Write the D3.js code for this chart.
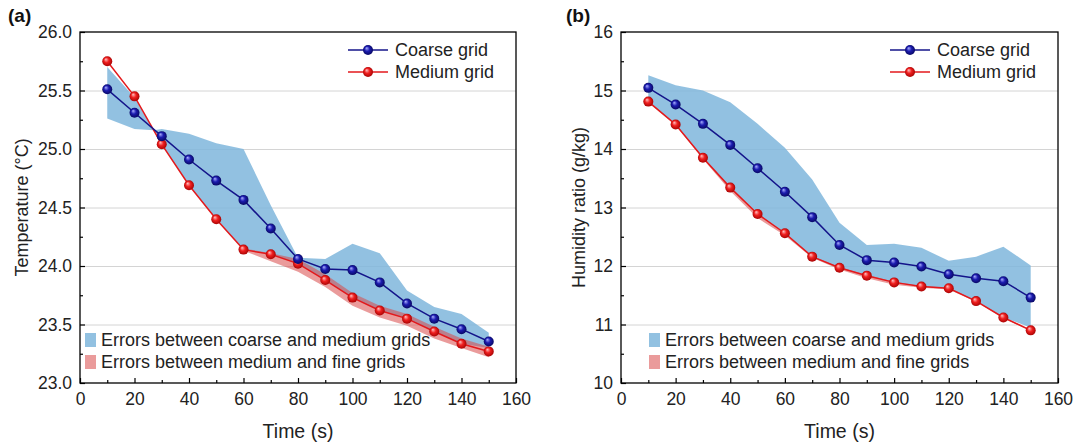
<!doctype html>
<html lang="en">
<head>
<meta charset="UTF-8">
<script src="https://cdn.jsdelivr.net/npm/d3@7"></script>
<style>
  body { margin: 0; background: #fff; }
  svg { font-family: "Liberation Sans", Arial, sans-serif; }
  .tick text { fill: #222; font-size: 17.5px; }
  .axis path, .axis line { stroke: #000; stroke-width: 1.2; }
  .grid line { stroke: #d4d4d4; stroke-width: 1; }
  .grid path { display: none; }
  .lbl { fill: #222; }
</style>
</head>
<body>
<svg id="chart" width="1075" height="448"></svg>
<script>
// ---- data ----
const timeS = [10, 20, 30, 40, 50, 60, 70, 80, 90, 100, 110, 120, 130, 140, 150];

// (a) temperature
const tempCoarse = [25.51, 25.31, 25.11, 24.91, 24.73, 24.565, 24.32, 24.06, 23.975, 23.965, 23.86, 23.68, 23.55, 23.46, 23.355];
const tempMedium = [25.75, 25.45, 25.04, 24.69, 24.40, 24.14, 24.10, 24.02, 23.88, 23.73, 23.62, 23.55, 23.44, 23.335, 23.27];
const tempBandCMX = [10, 20, 27, 30, 40, 50, 60, 70, 80, 90, 100, 110, 120, 130, 140, 150];
const tempBandCMHi = [25.70, 25.44, 25.16, 25.17, 25.13, 25.05, 25.00, 24.52, 24.07, 24.06, 24.19, 24.11, 23.79, 23.65, 23.59, 23.43];
const tempBandCMLo = [25.26, 25.17, 25.16, 25.04, 24.69, 24.40, 24.14, 24.10, 24.02, 23.88, 23.73, 23.62, 23.55, 23.44, 23.335, 23.30];
const tempBandMFX = [60, 70, 80, 90, 100, 110, 120, 130, 140, 150];
const tempBandMFHi = [24.15, 24.11, 24.06, 23.93, 23.77, 23.66, 23.59, 23.48, 23.38, 23.31];
const tempBandMFLo = [24.13, 24.04, 23.95, 23.82, 23.66, 23.56, 23.49, 23.38, 23.30, 23.22];
const tempTicks = [23.0, 23.5, 24.0, 24.5, 25.0, 25.5, 26.0];

// (b) humidity ratio
const humCoarse = [15.045, 14.76, 14.43, 14.07, 13.67, 13.27, 12.835, 12.36, 12.10, 12.06, 11.99, 11.86, 11.79, 11.74, 11.46];
const humMedium = [14.81, 14.42, 13.85, 13.34, 12.89, 12.56, 12.16, 11.97, 11.835, 11.72, 11.65, 11.62, 11.40, 11.12, 10.90];
const humBandCMHi = [15.26, 15.09, 15.00, 14.80, 14.43, 14.02, 13.48, 12.74, 12.36, 12.38, 12.31, 12.09, 12.16, 12.33, 12.01];
const humBandCMLo = [14.81, 14.42, 13.85, 13.34, 12.89, 12.56, 12.16, 11.97, 11.835, 11.72, 11.65, 11.62, 11.40, 11.12, 10.95];
const humBandMFHi = [14.82, 14.43, 13.86, 13.35, 12.90, 12.57, 12.17, 11.98, 11.85, 11.73, 11.66, 11.63, 11.41, 11.13, 10.91];
const humBandMFLo = [14.79, 14.40, 13.83, 13.28, 12.82, 12.52, 12.14, 11.94, 11.79, 11.68, 11.63, 11.60, 11.39, 11.11, 10.89];
const humTicks = [10, 11, 12, 13, 14, 15, 16];

const xTicks = [0, 20, 40, 60, 80, 100, 120, 140, 160];
const lineLabels = ["Coarse grid", "Medium grid"];
const bandLabels = ["Errors between coarse and medium grids", "Errors between medium and fine grids"];

// ---- drawing ----
const svg = d3.select("#chart");
const plotTop = 32, plotBottom = 383;

const colCoarse = "#14148a", colMedium = "#e3191c";
const bandBlue = "#7fb6dc", bandRed = "#d94848";

// sphere-like marker gradients
const defs = svg.append("defs");
function ballGrad(id, light, mid, dark) {
  let g = defs.append("radialGradient").attr("id", id)
    .attr("cx", "50%").attr("cy", "50%").attr("r", "55%")
    .attr("fx", "35%").attr("fy", "30%");
  g.append("stop").attr("offset", "0%").attr("stop-color", light);
  g.append("stop").attr("offset", "45%").attr("stop-color", mid);
  g.append("stop").attr("offset", "100%").attr("stop-color", dark);
}
ballGrad("ballBlue", "#aab0ff", "#1c1cb0", "#05055a");
ballGrad("ballRed", "#ffc4c4", "#f02020", "#a00000");

function drawPanel(p) {
  let x = d3.scaleLinear().domain([0, 160]).range([p.left, p.right]);
  let y = d3.scaleLinear().domain(p.yDomain).range([plotBottom, plotTop]);
  let g = svg.append("g");

  // gridlines
  g.append("g").attr("class", "grid")
    .attr("transform", "translate(" + p.left + ",0)")
    .call(d3.axisRight(y).tickValues(p.yTicks.slice(1, -1)).tickSize(p.right - p.left).tickFormat(""));

  // error bands
  let area = d3.area()
    .x(d => x(d[0])).y0(d => y(d[2])).y1(d => y(d[1]));
  g.append("path")
    .datum(d3.zip(p.cmX, p.cmHi, p.cmLo))
    .attr("d", area).attr("fill", bandBlue).attr("fill-opacity", 0.85);
  g.append("path")
    .datum(d3.zip(p.mfX, p.mfHi, p.mfLo))
    .attr("d", area).attr("fill", bandRed).attr("fill-opacity", 0.55);

  // lines
  let line = d3.line().x(d => x(d[0])).y(d => y(d[1]));
  g.append("path").datum(d3.zip(timeS, p.medium))
    .attr("d", line).attr("fill", "none").attr("stroke", colMedium).attr("stroke-width", 1.5);
  g.append("path").datum(d3.zip(timeS, p.coarse))
    .attr("d", line).attr("fill", "none").attr("stroke", colCoarse).attr("stroke-width", 1.5);
  g.selectAll(".mMed").data(d3.zip(timeS, p.medium)).enter().append("circle")
    .attr("cx", d => x(d[0])).attr("cy", d => y(d[1])).attr("r", 5)
    .attr("fill", "url(#ballRed)");
  g.selectAll(".mCoa").data(d3.zip(timeS, p.coarse)).enter().append("circle")
    .attr("cx", d => x(d[0])).attr("cy", d => y(d[1])).attr("r", 5)
    .attr("fill", "url(#ballBlue)");

  // axes (ticks pointing inward)
  let minorX = d3.range(10, 160, 20);
  g.append("g").attr("class", "axis")
    .attr("transform", "translate(0," + plotBottom + ")")
    .call(d3.axisBottom(x).tickValues(xTicks).tickSizeInner(-5).tickSizeOuter(0).tickPadding(10))
    .call(a => a.select(".domain").remove());
  g.append("g").attr("class", "axis")
    .attr("transform", "translate(0," + plotBottom + ")")
    .call(d3.axisBottom(x).tickValues(minorX).tickSizeInner(-3).tickSizeOuter(0).tickFormat(""))
    .call(a => a.select(".domain").remove());
  let yMinor = d3.pairs(p.yTicks).map(d => (d[0] + d[1]) / 2);
  g.append("g").attr("class", "axis")
    .attr("transform", "translate(" + p.left + ",0)")
    .call(d3.axisLeft(y).tickValues(p.yTicks).tickSizeInner(-5).tickSizeOuter(0).tickPadding(8).tickFormat(d3.format(p.fmt)))
    .call(a => a.select(".domain").remove());
  g.append("g").attr("class", "axis")
    .attr("transform", "translate(" + p.left + ",0)")
    .call(d3.axisLeft(y).tickValues(yMinor).tickSizeInner(-3).tickSizeOuter(0).tickFormat(""))
    .call(a => a.select(".domain").remove());

  // frame
  g.append("rect").attr("x", p.left).attr("y", plotTop)
    .attr("width", p.right - p.left).attr("height", plotBottom - plotTop)
    .attr("fill", "none").attr("stroke", "#000").attr("stroke-width", 1.3);

  // titles
  g.append("text").attr("class", "lbl")
    .attr("x", (p.left + p.right) / 2).attr("y", 438)
    .attr("text-anchor", "middle").style("font-size", "19.5px").text("Time (s)");
  g.append("text").attr("class", "lbl")
    .attr("transform", "translate(" + p.yTitleX + "," + (plotTop + plotBottom) / 2 + ") rotate(-90)")
    .attr("text-anchor", "middle").attr("dy", "0.35em").style("font-size", "18px").text(p.yTitle);
  g.append("text")
    .attr("x", p.tagX).attr("y", 22)
    .style("font-size", "19px").style("font-weight", "bold").attr("fill", "#111").text(p.tag);

  // line legend
  let lx = p.right - 168;
  [[colCoarse, "url(#ballBlue)"], [colMedium, "url(#ballRed)"]].forEach(function(c, i) {
    let ly = 50 + i * 22;
    g.append("line").attr("x1", lx).attr("x2", lx + 40).attr("y1", ly).attr("y2", ly)
      .attr("stroke", c[0]).attr("stroke-width", 1.5);
    g.append("circle").attr("cx", lx + 20).attr("cy", ly).attr("r", 5).attr("fill", c[1]);
    g.append("text").attr("class", "lbl").attr("x", lx + 47).attr("y", ly).attr("dy", "0.35em")
      .style("font-size", "18px").text(lineLabels[i]);
  });

  // band legend
  let bx = p.left + p.bandLegendDx;
  [[bandBlue, 0.85], [bandRed, 0.55]].forEach(function(c, i) {
    let by = 340 + i * 22;
    g.append("rect").attr("x", bx).attr("y", by - 7).attr("width", 11).attr("height", 14)
      .attr("fill", c[0]).attr("fill-opacity", c[1]);
    g.append("text").attr("class", "lbl").attr("x", bx + 16).attr("y", by).attr("dy", "0.35em")
      .style("font-size", "18px").text(bandLabels[i]);
  });
}

drawPanel({
  left: 80, right: 516, yDomain: [23, 26], yTicks: tempTicks, fmt: ".1f",
  coarse: tempCoarse, medium: tempMedium,
  cmX: tempBandCMX, cmHi: tempBandCMHi, cmLo: tempBandCMLo,
  mfX: tempBandMFX, mfHi: tempBandMFHi, mfLo: tempBandMFLo,
  yTitle: "Temperature (°C)", yTitleX: 22, tag: "(a)", tagX: 8, bandLegendDx: 5
});
drawPanel({
  left: 621, right: 1058, yDomain: [10, 16], yTicks: humTicks, fmt: "d",
  coarse: humCoarse, medium: humMedium,
  cmX: timeS, cmHi: humBandCMHi, cmLo: humBandCMLo,
  mfX: timeS, mfHi: humBandMFHi, mfLo: humBandMFLo,
  yTitle: "Humidity ratio (g/kg)", yTitleX: 579, tag: "(b)", tagX: 566, bandLegendDx: 28
});
</script>
</body>
</html>
